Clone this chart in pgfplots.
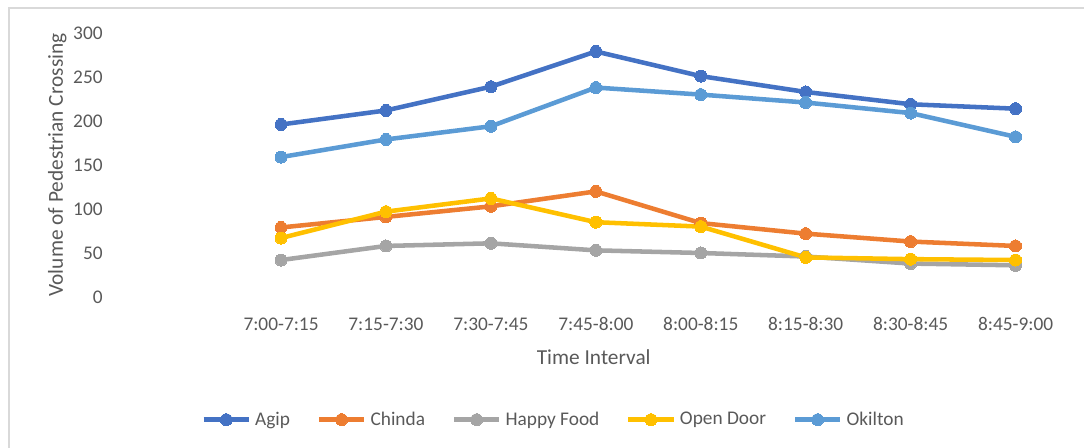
\documentclass[border=0pt]{standalone}
\usepackage{pgfplots}
\pgfplotsset{compat=1.18}
\usepackage{fontspec}
\setmainfont{Carlito}
\definecolor{agip}{HTML}{4472C4}
\definecolor{chinda}{HTML}{ED7D31}
\definecolor{happy}{HTML}{A5A5A5}
\definecolor{opendoor}{HTML}{FFC000}
\definecolor{okilton}{HTML}{5B9BD5}
\definecolor{txt}{HTML}{595959}
\definecolor{frame}{HTML}{D9D9D9}
\begin{document}
\begin{tikzpicture}[x=0.75pt,y=0.75pt]
% picture spans 1084x448 px; axis south-west at px (110, 297)
\useasboundingbox (-110,-151) rectangle (974,297);
\draw[frame,line width=1.5pt] (-101,-151) -- (-101,289) -- (974,289);
\begin{axis}[
  at={(0,0)}, anchor=south west,
  scale only axis,
  width=718.5pt, height=198pt,
  xmin=-1.63, xmax=7.5,
  ymin=0, ymax=300,
  axis line style={draw=none},
  tick style={draw=none},
  ytick={0,50,...,300},
  xtick={0,...,7},
  xticklabels={7:00-7:15,7:15-7:30,7:30-7:45,7:45-8:00,8:00-8:15,8:15-8:30,8:30-8:45,8:45-9:00},
  ticklabel style={font=\fontsize{14.5}{16}\selectfont, text=txt},
  /pgf/number format/assume math mode=true,
  yticklabel style={xshift=-2pt},
  xticklabel style={yshift=-12pt},
  xlabel={Time Interval},
  ylabel={Volume of Pedestrian Crossing},
  label style={font=\fontsize{16}{18}\selectfont, text=txt},
  xlabel style={at={(axis cs:2.98,0)}, anchor=north, yshift=-36pt},
  ylabel style={at={(rel axis cs:0,0.5)}, anchor=south, xshift=0pt, yshift=29pt},
  clip=false,
  legend columns=5,
  legend style={at={(axis cs:2.6,0)}, anchor=center, yshift=-92pt, draw=none, fill=none,
    font=\fontsize{14.5}{16}\selectfont, text=txt,
    /tikz/every odd column/.append style={column sep=1pt},
    /tikz/every even column/.append style={column sep=18pt}},
  legend image code/.code={\draw[#1,mark repeat=2,mark phase=2] plot coordinates {(0pt,0pt) (17pt,0pt) (34pt,0pt)};},
  every axis plot/.append style={line width=3.4pt, mark=*, mark size=4.5pt},
]
\addplot[agip, mark options={fill=agip, draw=agip, line width=0pt}] coordinates {(0,196) (1,212) (2,239) (3,279) (4,251) (5,233) (6,219) (7,214)};
\addlegendentry{Agip}
\addplot[chinda, mark options={fill=chinda, draw=chinda, line width=0pt}] coordinates {(0,79) (1,91) (2,103) (3,120) (4,84) (5,72) (6,63) (7,58)};
\addlegendentry{Chinda}
\addplot[happy, mark options={fill=happy, draw=happy, line width=0pt}] coordinates {(0,42) (1,58) (2,61) (3,53) (4,50) (5,46) (6,38) (7,36)};
\addlegendentry{Happy Food}
\addplot[opendoor, mark options={fill=opendoor, draw=opendoor, line width=0pt}] coordinates {(0,67) (1,97) (2,112) (3,85) (4,80) (5,45) (6,43) (7,42)};
\addlegendentry{Open Door}
\addplot[okilton, mark options={fill=okilton, draw=okilton, line width=0pt}] coordinates {(0,159) (1,179) (2,194) (3,238) (4,230) (5,221) (6,209) (7,182)};
\addlegendentry{Okilton}
\end{axis}
\end{tikzpicture}
\end{document}
